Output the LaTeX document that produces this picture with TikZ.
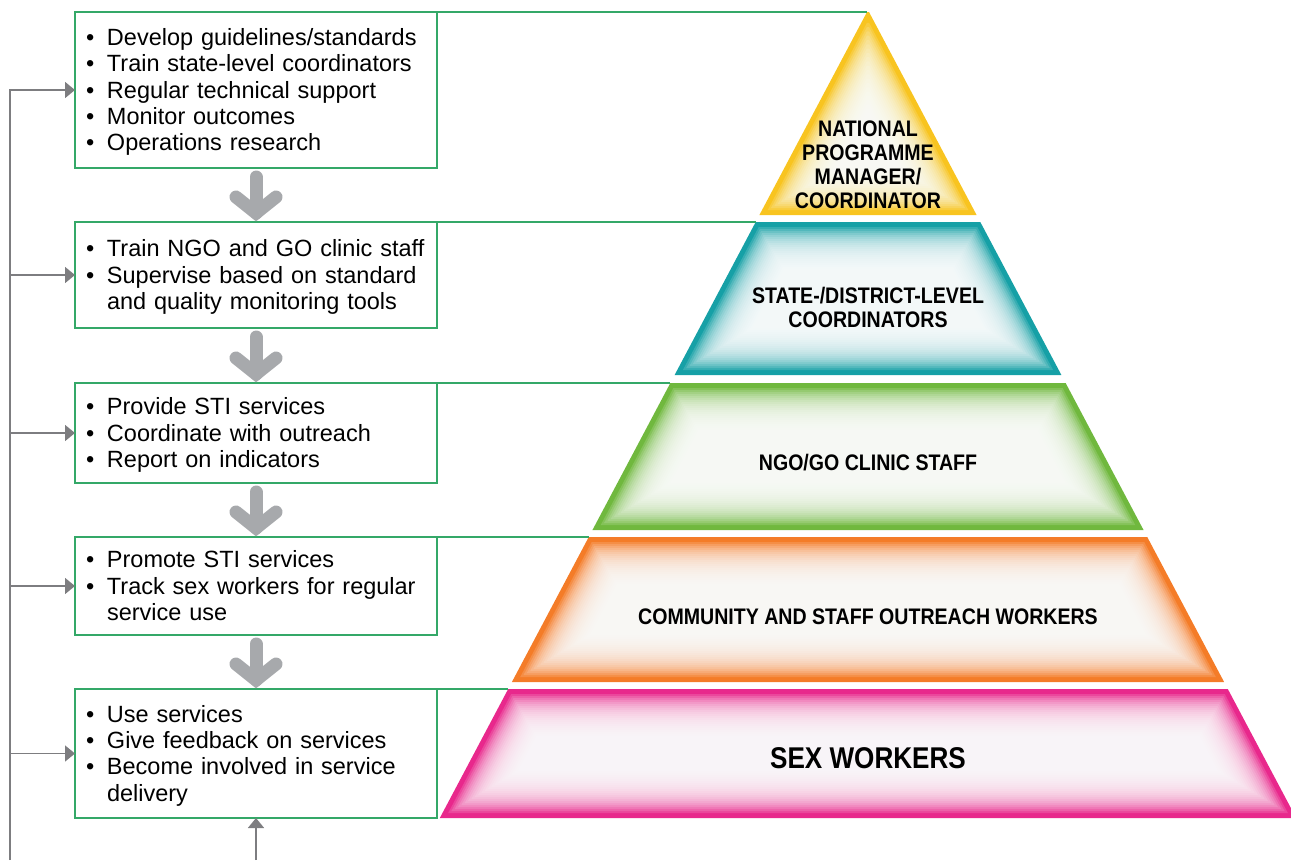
\documentclass[tikz,border=0pt]{standalone}
\usepackage{fontspec}
\setmainfont{Liberation Sans}
\newfontfamily\tierfont{Liberation Sans}[FakeStretch=0.87]
\usetikzlibrary{positioning, calc, arrows.meta}

\definecolor{boxgreen}{RGB}{52,168,104}
\definecolor{stepgray}{RGB}{167,169,172}
\definecolor{loopgray}{RGB}{125,125,128}
\definecolor{natyellow}{RGB}{248,196,32}
\definecolor{stateteal}{RGB}{22,160,166}
\definecolor{clinicgreen}{RGB}{112,184,62}
\definecolor{outorange}{RGB}{244,124,40}
\definecolor{sexpink}{RGB}{232,40,140}

% bullet list of a task box, set a little low in its box
\newcommand\tasklines[1]{\raisebox{0pt}[\height][\dimexpr\depth-6pt\relax]{\begin{tabular}{@{}p{21pt}@{}l@{}}#1\end{tabular}}}

\tikzset{
  taskbox/.style={draw=boxgreen, line width=1.3pt, rectangle, minimum width=362pt, text width=340pt,
    inner xsep=11pt, inner ysep=0pt, outer sep=0pt, align=left, font=\fontsize{23.5}{26.3}\selectfont},
  tierlabel/.style={font=\tierfont\bfseries\fontsize{22.5}{24}\selectfont, align=center, inner sep=0pt},
  stepdown/.style={stepgray, line width=13pt, line cap=round},
  feedback/.style={loopgray, line width=1.6pt},
}

\begin{document}
\begin{tikzpicture}[x=1pt, y=-1pt, >={Triangle[length=10pt,width=16pt]}]
    \useasboundingbox (0,0) rectangle (1291,860);

    % pyramid tiers
    \foreach \ytop/\ybot/\tcol [count=\i] in {12/215/natyellow, 222/375/stateteal, 383/530/clinicgreen, 537/682/outorange, 689/818/sexpink} {
        \pgfmathsetmacro\halftop{0.53*(\ytop-12)+1}
        \pgfmathsetmacro\halfbot{0.53*(\ybot-12)+1}
        \fill[\tcol] (868-\halftop,\ytop) -- (868+\halftop,\ytop) -- (868+\halfbot,\ybot) -- (868-\halfbot,\ybot) -- cycle;
        \coordinate (tl\i) at (868-\halftop,\ytop);
        \foreach \dd in {5,7,...,47} {
            \pgfmathsetmacro\glowtop{max(\ytop+\dd,12+2.15*\dd)}
            \pgfmathsetmacro\glowbot{\ybot-\dd}
            \pgfmathsetmacro\glowwt{max(0.53*(\glowtop-12)+1-1.13*\dd,0)}
            \pgfmathsetmacro\glowwb{0.53*(\glowbot-12)+1-1.13*\dd}
            \fill[white, opacity=0.14] (868-\glowwt,\glowtop) -- (868+\glowwt,\glowtop) -- (868+\glowwb,\glowbot) -- (868-\glowwb,\glowbot) -- cycle;
        }
    }

    \node[tierlabel] (natl) at (868,165) {NATIONAL\\PROGRAMME\\MANAGER/\\COORDINATOR};
    \node[tierlabel] (statel) at (868,307) {STATE-/DISTRICT-LEVEL\\COORDINATORS};
    \node[tierlabel] (clinicl) at (868,463) {NGO/GO CLINIC STAFF};
    \node[tierlabel] (outl) at (868,617) {COMMUNITY AND STAFF OUTREACH WORKERS};
    \node[tierlabel, font=\tierfont\bfseries\fontsize{30}{32}\selectfont] (sexl) at (868,758) {SEX WORKERS};

    % task boxes
    \node[taskbox, minimum height=156pt, anchor=north west] (b1) at (75,12) {\tasklines{
        \textbullet & Develop guidelines/standards\\
        \textbullet & Train state-level coordinators\\
        \textbullet & Regular technical support\\
        \textbullet & Monitor outcomes\\
        \textbullet & Operations research}};
    \node[taskbox, minimum height=106pt, below=54pt of b1] (b2) {\tasklines{
        \textbullet & Train NGO and GO clinic staff\\
        \textbullet & Supervise based on standard\\
                    & and quality monitoring tools}};
    \node[taskbox, minimum height=100pt, below=55pt of b2] (b3) {\tasklines{
        \textbullet & Provide STI services\\
        \textbullet & Coordinate with outreach\\
        \textbullet & Report on indicators}};
    \node[taskbox, minimum height=98pt, below=54pt of b3] (b4) {\tasklines{
        \textbullet & Promote STI services\\
        \textbullet & Track sex workers for regular\\
                    & service use}};
    \node[taskbox, minimum height=129pt, below=54pt of b4] (b5) {\tasklines{
        \textbullet & Use services\\
        \textbullet & Give feedback on services\\
        \textbullet & Become involved in service\\
                    & delivery}};

    % box tops run on to the pyramid
    \foreach \i in {1,...,5}
        \draw[boxgreen, line width=1.3pt] (b\i.north east) -- (tl\i);

    % steps down
    \foreach \u/\v in {b1/b2, b2/b3, b3/b4, b4/b5} {
        \draw[stepdown] ($(\u.south)+(0,9)$) -- ($(\v.north)+(0,-9)$);
        \draw[stepdown, line join=miter] ($(\v.north)+(-20,-25)$) -- ($(\v.north)+(0,-9)$) -- ($(\v.north)+(20,-25)$);
    }

    % feedback loop
    \coordinate (loopfoot) at (10,860);
    \draw[feedback, ->] (loopfoot) |- (b1.west);
    \foreach \i in {2,...,5}
        \draw[feedback, ->] (loopfoot |- b\i.west) -- (b\i.west);
    \coordinate (usefoot) at (256,860);
    \draw[feedback, ->] (usefoot) -- (b5.south);

\end{tikzpicture}
\end{document}
